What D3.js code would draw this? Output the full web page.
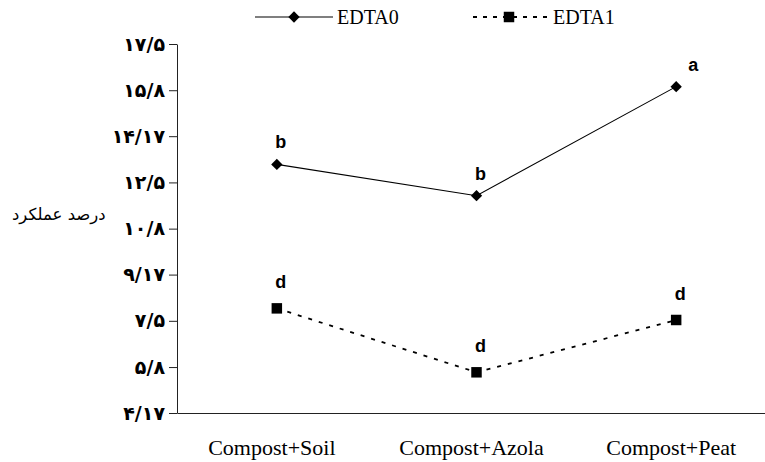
<!DOCTYPE html>
<html>
<head>
<meta charset="utf-8">
<script src="https://cdn.jsdelivr.net/npm/d3@7"></script>
<style>
  body { margin: 0; background: #fff; }
  svg { display: block; }
</style>
</head>
<body>
<div id="chart-container"></div>
<script>
// data
const categories = ["Compost+Soil", "Compost+Azola", "Compost+Peat"];
const edta0 = [13.15, 12.02, 15.96];
const edta1 = [7.95, 5.64, 7.53];
const letters0 = ["b", "b", "a"];
const letters1 = ["d", "d", "d"];
const tickValues = [17.5, 15.83, 14.17, 12.5, 10.83, 9.17, 7.5, 5.83, 4.17];
const tickLabels = ["۱۷/۵", "۱۵/۸", "۱۴/۱۷", "۱۲/۵", "۱۰/۸", "۹/۱۷", "۷/۵", "۵/۸", "۴/۱۷"];
const yTitle = "درصد عملکرد";
const seriesNames = ["EDTA0", "EDTA1"];

const width = 765, height = 462;
const margin = { top: 44, right: -11, bottom: 49, left: 177 };

const svg = d3.select("#chart-container")
    .append("svg")
    .attr("width", width)
    .attr("height", height);

const x = d3.scaleBand()
    .domain(categories)
    .range([margin.left, width - margin.right])
    .padding(0);

const y = d3.scaleLinear()
    .domain([4.17, 17.5])
    .range([height - margin.bottom, margin.top]);

// Y axis
const yAxis = svg.append("g")
    .attr("transform", `translate(${margin.left},0)`)
    .call(d3.axisLeft(y)
        .tickValues(tickValues)
        .tickFormat((d, i) => tickLabels[i])
        .tickSize(8)
        .tickSizeOuter(0)
        .tickPadding(4));
yAxis.select(".domain").attr("stroke", "#222");
yAxis.selectAll(".tick line").attr("stroke", "#222");
yAxis.selectAll(".tick text")
    .attr("font-family", "DejaVu Sans")
    .attr("font-weight", "bold")
    .attr("font-size", 19)
    .attr("fill", "#000");

// X axis (no ticks)
const xAxis = svg.append("g")
    .attr("transform", `translate(0,${height - margin.bottom})`)
    .call(d3.axisBottom(x).tickSize(0).tickPadding(26));
xAxis.select(".domain").attr("stroke", "#222");
xAxis.selectAll(".tick text")
    .attr("font-family", "Liberation Serif")
    .attr("font-size", 22)
    .attr("dx", -5)
    .attr("fill", "#000");

// Y title
svg.append("text")
    .attr("x", 12)
    .attr("y", 220)
    .attr("font-family", "DejaVu Sans")
    .attr("font-size", 16.5)
    .attr("direction", "rtl")
    .attr("text-anchor", "end")
    .text(yTitle);

const cx = d => x(d) + x.bandwidth() / 2;

const line = d3.line()
    .x((d, i) => cx(categories[i]))
    .y(d => y(d));

// EDTA0 solid
svg.append("path")
    .datum(edta0)
    .attr("fill", "none")
    .attr("stroke", "#000")
    .attr("stroke-width", 1.1)
    .attr("d", line);

// EDTA1 dashed
svg.append("path")
    .datum(edta1)
    .attr("fill", "none")
    .attr("stroke", "#000")
    .attr("stroke-width", 1.8)
    .attr("stroke-dasharray", "4,7")
    .attr("d", line);

const diamond = d3.symbol().type(d3.symbolSquare).size(64);
const square = d3.symbol().type(d3.symbolSquare).size(110);

svg.selectAll(".m0")
    .data(edta0)
    .enter().append("path")
    .attr("class", "m0")
    .attr("d", diamond)
    .attr("transform", (d, i) => `translate(${cx(categories[i])},${y(d)}) rotate(45)`)
    .attr("fill", "#000");

svg.selectAll(".m1")
    .data(edta1)
    .enter().append("path")
    .attr("class", "m1")
    .attr("d", square)
    .attr("transform", (d, i) => `translate(${cx(categories[i])},${y(d)})`)
    .attr("fill", "#000");

// significance letters
function addLetters(values, letters, dy) {
    svg.selectAll(null)
        .data(values)
        .enter().append("text")
        .attr("x", (d, i) => cx(categories[i]) + (letters[i] === "a" ? 17 : 4))
        .attr("y", d => y(d) + dy)
        .attr("text-anchor", "middle")
        .attr("font-family", "Liberation Sans")
        .attr("font-weight", "bold")
        .attr("font-size", 18)
        .text((d, i) => letters[i]);
}
addLetters(edta0, letters0, -16);
addLetters(edta1, letters1, -20);

// legend
const legend = svg.append("g");
legend.append("line")
    .attr("x1", 255).attr("x2", 333)
    .attr("y1", 17).attr("y2", 17)
    .attr("stroke", "#000").attr("stroke-width", 1.1);
legend.append("path")
    .attr("d", diamond)
    .attr("transform", "translate(294,17) rotate(45)")
    .attr("fill", "#000");
legend.append("text")
    .attr("x", 337).attr("y", 24)
    .attr("font-family", "Liberation Serif")
    .attr("font-size", 20)
    .text(seriesNames[0]);

legend.append("line")
    .attr("x1", 473).attr("x2", 548)
    .attr("y1", 17).attr("y2", 17)
    .attr("stroke", "#000").attr("stroke-width", 1.8)
    .attr("stroke-dasharray", "4,6");
legend.append("path")
    .attr("d", square)
    .attr("transform", "translate(509,17)")
    .attr("fill", "#000");
legend.append("text")
    .attr("x", 553).attr("y", 24)
    .attr("font-family", "Liberation Serif")
    .attr("font-size", 20)
    .text(seriesNames[1]);
</script>
</body>
</html>
